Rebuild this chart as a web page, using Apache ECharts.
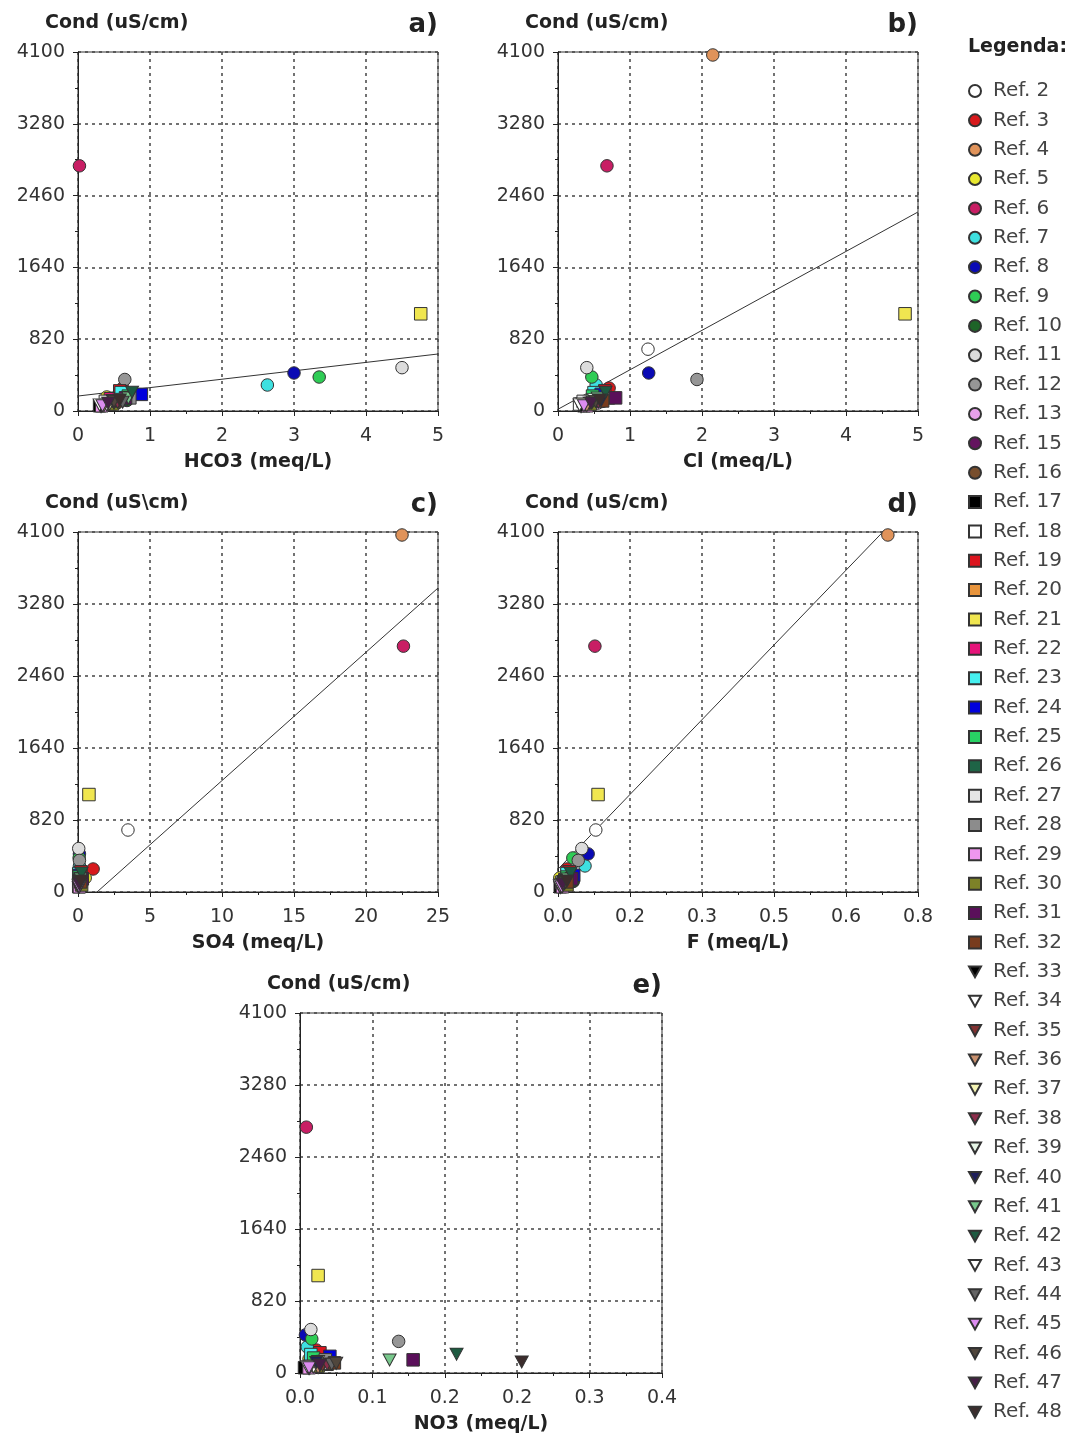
<!DOCTYPE html>
<html><head><meta charset="utf-8">
<script src="https://cdn.jsdelivr.net/npm/echarts@6/dist/echarts.min.js"></script>
<style>html,body{margin:0;padding:0;background:#fff}#c{width:1075px;height:1437px}</style>
</head><body><div id="c"></div>
<script>
// ---- data ----
const REFS = [2,3,4,5,6,7,8,9,10,11,12,13,15,16,17,18,19,20,21,22,23,24,25,26,27,28,29,30,31,32,33,34,35,36,37,38,39,40,41,42,43,44,45,46,47,48];
const COLORS = ['#ffffff','#d7191c','#e0935a','#e8e830','#c81e64','#3ee0e0','#0a0ab4','#2ecc55','#1e6428','#dcdcdc','#969696','#e8a0ec','#64145f','#784e2d',
  '#000000','#ffffff','#dc141e','#e8943c','#f0e650','#e6147a','#46f0f0','#0000dc','#28d264','#1e6446','#e6e6e6','#8c8c8c','#ee96ee','#7d8228','#5a0f5a','#783c1e',
  '#000000','#ffffff','#823232','#c8906e','#f5f5b4','#8c2d4b','#e6f5e6','#1e1e5a','#78c88c','#1e5a41','#ffffff','#646464','#dc8cf0','#50463c','#461e46','#3c2d2d'];
// conductivity (uS/cm) per reference
const COND = [706,262,4066,160,2800,297,434,388,120,495,360,90,110,70,
  60,80,230,100,1110,140,210,190,170,130,110,150,60,80,150,115,
  50,70,90,60,80,100,130,120,148,215,70,100,60,110,90,125];
const HCO3 = [null,0.62,null,0.40,0.02,2.63,3.0,3.35,0.68,4.5,0.65,0.45,0.55,0.35,
  0.30,0.42,0.58,0.50,4.76,0.45,0.60,0.88,0.70,0.60,0.38,0.72,0.33,0.48,0.66,0.52,
  0.32,0.40,0.50,0.36,0.44,0.55,0.60,0.48,0.70,0.75,0.30,0.62,0.34,0.50,0.42,0.58];
const CL = [1.25,0.71,2.15,0.48,0.68,0.53,1.26,0.47,0.50,0.40,1.93,0.55,0.62,0.40,
  0.36,0.30,0.65,0.42,4.82,0.52,0.50,0.60,0.48,0.58,0.35,0.70,0.40,0.45,0.80,0.62,
  0.32,0.38,0.44,0.40,0.34,0.56,0.50,0.60,0.55,0.66,0.30,0.48,0.36,0.52,0.46,0.58];
const SO4 = [3.47,1.05,22.5,0.5,22.6,0.1,0.1,0.08,0.3,0.05,0.1,0.15,0.2,0.1,
  0.05,0.1,0.2,0.15,0.76,0.1,0.05,0.12,0.08,0.2,0.05,0.15,0.1,0.25,0.3,0.18,
  0.05,0.08,0.12,0.1,0.06,0.2,0.15,0.1,0.18,0.25,0.05,0.12,0.08,0.15,0.1,0.2];
const F = [0.084,0.02,0.733,0.004,0.082,0.06,0.067,0.033,0.034,0.053,0.045,0.02,0.015,0.01,
  0.005,0.01,0.025,0.012,0.089,0.015,0.02,0.035,0.02,0.025,0.008,0.03,0.01,0.02,0.03,0.02,
  0.005,0.008,0.012,0.01,0.006,0.015,0.018,0.012,0.022,0.028,0.004,0.014,0.008,0.016,0.01,0.02];
const NO3 = [null,0.018,null,0.01,0.007,0.008,0.006,0.013,0.015,0.012,0.109,0.02,0.01,0.02,
  0.005,0.015,0.022,0.03,0.02,0.02,0.012,0.033,0.015,0.025,0.03,0.028,0.01,0.02,0.125,0.038,
  0.01,0.015,0.025,0.02,0.012,0.03,0.02,0.018,0.099,0.173,0.008,0.035,0.01,0.04,0.022,0.245];
// linear fits [intercept, slope]
const FIT_A = [171, 96];
const FIT_B = [20, 450.6];
const FIT_C = [-193, 146.2];
const FIT_D = [260, 5320];
// axes
const X_NAMES = ['HCO3 (meq/L)','Cl (meq/L)','SO4 (meq/L)','F (meq/L)','NO3 (meq/L)'];
const Y_NAMES = ['Cond (uS/cm)','Cond (uS/cm)','Cond (uS\\cm)','Cond (uS/cm)','Cond (uS/cm)'];
const PANEL_LABELS = ['a)','b)','c)','d)','e)'];
const X_MAX = [5,5,25,0.8,0.4];
const X_INTERVAL = [1,1,5,0.16,0.08];
const X_TICK_LABELS = [
  ['0','1','2','3','4','5'],
  ['0','1','2','3','4','5'],
  ['0','5','10','15','20','25'],
  ['0.0','0.2','0.3','0.5','0.6','0.8'],
  ['0.0','0.1','0.2','0.2','0.3','0.4']
];
const Y_TICK_LABELS = ['0','820','1640','2460','3280','4100'];
const Y_MAX = 4100, Y_INTERVAL = 820;

// ---- layout ----
const GRIDS = [
  {left:78, top:52, width:360, height:359},
  {left:558, top:52, width:360, height:359},
  {left:78, top:532, width:360, height:360},
  {left:558, top:532, width:360, height:360},
  {left:300, top:1013, width:362, height:360}
];
const FONT = 'DejaVu Sans';
const TRI = 'path://M0,0 L10,0 L5,9 Z';
function shapeFor(r){ return r <= 16 ? 'circle' : (r <= 32 ? 'rect' : TRI); }

const xs = [HCO3, CL, SO4, F, NO3];
const fits = [FIT_A, FIT_B, FIT_C, FIT_D, null];

const grid = GRIDS.map(g => Object.assign({show:true, borderColor:'#333', borderWidth:1, backgroundColor:'transparent'}, g));
const xAxis = GRIDS.map((g,p) => ({
  gridIndex:p, type:'value', min:0, max:X_MAX[p], interval:X_INTERVAL[p],
  name:X_NAMES[p], nameLocation:'middle', nameGap:42,
  nameTextStyle:{fontFamily:FONT, fontWeight:'bold', fontSize:19, color:'#222'},
  axisLine:{show:true, lineStyle:{color:'#222', width:1}},
  axisTick:{show:true, length:5, lineStyle:{color:'#222'}},
  minorTick:{show:true, splitNumber:2, length:3, lineStyle:{color:'#222'}},
  splitLine:{show:true, lineStyle:{color:'#444', type:[3,4], width:1.5}},
  axisLabel:{fontFamily:FONT, fontSize:19, color:'#333', margin:16, hideOverlap:false,
    formatter: v => X_TICK_LABELS[p][Math.round(v / X_INTERVAL[p])]}
}));
const yAxis = GRIDS.map((g,p) => ({
  gridIndex:p, type:'value', min:0, max:Y_MAX, interval:Y_INTERVAL,
  axisLine:{show:true, lineStyle:{color:'#222', width:1}},
  axisTick:{show:true, length:5, lineStyle:{color:'#222'}},
  minorTick:{show:true, splitNumber:2, length:3, lineStyle:{color:'#222'}},
  splitLine:{show:true, lineStyle:{color:'#444', type:[3,4], width:1.5}},
  axisLabel:{fontFamily:FONT, fontSize:19, color:'#333', margin:13,
    formatter: v => Y_TICK_LABELS[Math.round(v / Y_INTERVAL)]}
}));

const series = [];
fits.forEach((fit,p) => {
  if (!fit) return;
  const xm = X_MAX[p];
  series.push({type:'line', xAxisIndex:p, yAxisIndex:p, silent:true, symbol:'none', clip:true,
    lineStyle:{color:'#333', width:1}, z:1,
    data:[[0, fit[0]],[xm, fit[0]+fit[1]*xm]]});
});
xs.forEach((arr,p) => {
  REFS.forEach((r,i) => {
    series.push({type:'scatter', name:'Ref. '+r, xAxisIndex:p, yAxisIndex:p,
      symbol:shapeFor(r), symbolSize: r>32 ? [13,12] : 12.5, z:2,
      itemStyle:{color:COLORS[i], borderColor:'#333', borderWidth:1, opacity:1},
      data: arr[i]==null ? [] : [[arr[i], COND[i]]]});
  });
});

const graphic = [];
GRIDS.forEach((g,p) => {
  graphic.push({type:'text', left:g.left-33, top:g.top-38,
    style:{text:Y_NAMES[p], font:'bold 19px "DejaVu Sans"', fill:'#222'}});
  graphic.push({type:'text', right:1075-(g.left+g.width), top:g.top-40,
    style:{text:PANEL_LABELS[p], font:'bold 26px "DejaVu Sans"', fill:'#222'}});
});
graphic.push({type:'text', left:968, top:38, style:{text:'Legenda:', font:'bold 19px "DejaVu Sans"', fill:'#222'}});

const option = {
  animation:false,
  backgroundColor:'#fff',
  grid, xAxis, yAxis, series, graphic,
  legend:{
    orient:'vertical', left:968, top:81, padding:0,
    itemWidth:12, itemHeight:12, itemGap:9.36,
    selectedMode:false,
    textStyle:{fontFamily:FONT, fontSize:20, lineHeight:20, color:'#444', padding:[0,0,0,7]},
    data: REFS.map(r => ({name:'Ref. '+r, icon:shapeFor(r)}))
  }
};
const chart = echarts.init(document.getElementById('c'), null, {renderer:'canvas'});
chart.setOption(option);
</script></body></html>
